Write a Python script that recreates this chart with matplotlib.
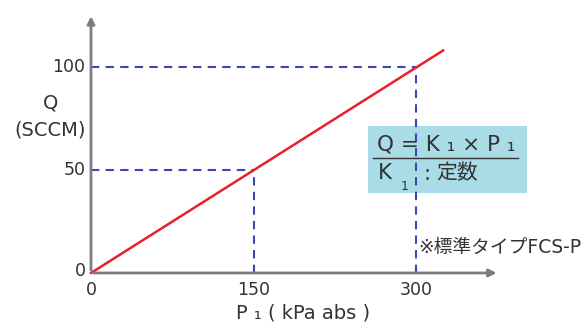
import matplotlib
matplotlib.use("Agg")
import matplotlib.pyplot as plt
from matplotlib.patches import Rectangle

# values
p1_ticks = [0, 150, 300]
q_ticks = [0, 50, 100]
ref_p1 = [150, 300]
ref_q = [50, 100]
line_p1 = [0, 325]
line_q = [0, 108]

axis_col = "#7d7d7d"
dash_col = "#3b48b0"
text_col = "#333333"
cjk = ["DejaVu Sans", "Noto Sans CJK JP"]

fig = plt.figure(figsize=(5.87, 3.22), dpi=100)
ax = fig.add_axes([0, 0, 1, 1])
ax.set_xlim(-84.0, 457.8)
ax.set_ylim(-23.8, 132.5)
ax.axis("off")

# axes with arrows
ax.annotate("", xy=(377, 0), xytext=(0, 0),
            arrowprops=dict(arrowstyle="-|>", color=axis_col, lw=2, mutation_scale=11))
ax.annotate("", xy=(0, 126), xytext=(0, 0),
            arrowprops=dict(arrowstyle="-|>", color=axis_col, lw=2, mutation_scale=11))

# guide lines
for p, q in zip(ref_p1, ref_q):
    ax.plot([0, p], [q, q], ls=(0, (4, 3)), color=dash_col, lw=1.5)
    ax.plot([p, p], [0, q], ls=(0, (4, 3)), color=dash_col, lw=1.5)

ax.plot(line_p1, line_q, color="#e8202a", lw=1.8)

# tick labels
for p in p1_ticks:
    ax.text(p, -8.5, str(p), ha="center", va="center", fontsize=12.5, color=text_col)
for q in q_ticks:
    ax.text(-5, q + (1 if q == 0 else 0), str(q), ha="right", va="center", fontsize=12.5, color=text_col)

ax.text(-37.5, 82.5, "Q", ha="center", va="center", fontsize=14, color=text_col)
ax.text(-37.5, 69.5, "(SCCM)", ha="center", va="center", fontsize=14, color=text_col)
ax.text(196, -19.5, "P ₁ ( kPa abs )", ha="center", va="center", fontsize=14, color=text_col)

# formula box
ax.add_patch(Rectangle((255.5, 38.8), 147, 32.6, facecolor="#a9dce6", edgecolor="none"))
ax.text(264, 62.3, "Q = K ₁ × P ₁", ha="left", va="center", fontsize=15.5, color=text_col)
ax.plot([260, 394], [55.8, 55.8], color=text_col, lw=1)
ax.text(265, 48.6, "K", ha="left", va="center", fontsize=15.5, color=text_col)
ax.text(289, 41.8, "1", ha="center", va="center", fontsize=9, color=text_col)
ax.text(310, 48.2, ":", ha="center", va="center", fontsize=15, color=text_col)
ax.text(319, 48.4, "定数", ha="left", va="center", fontsize=15, color=text_col,
        family=cjk)

ax.text(302, 12.3, "※標準タイプFCS-P", ha="left", va="center", fontsize=13.5, color=text_col,
        family=cjk)

fig.savefig("out.png", dpi=100)
